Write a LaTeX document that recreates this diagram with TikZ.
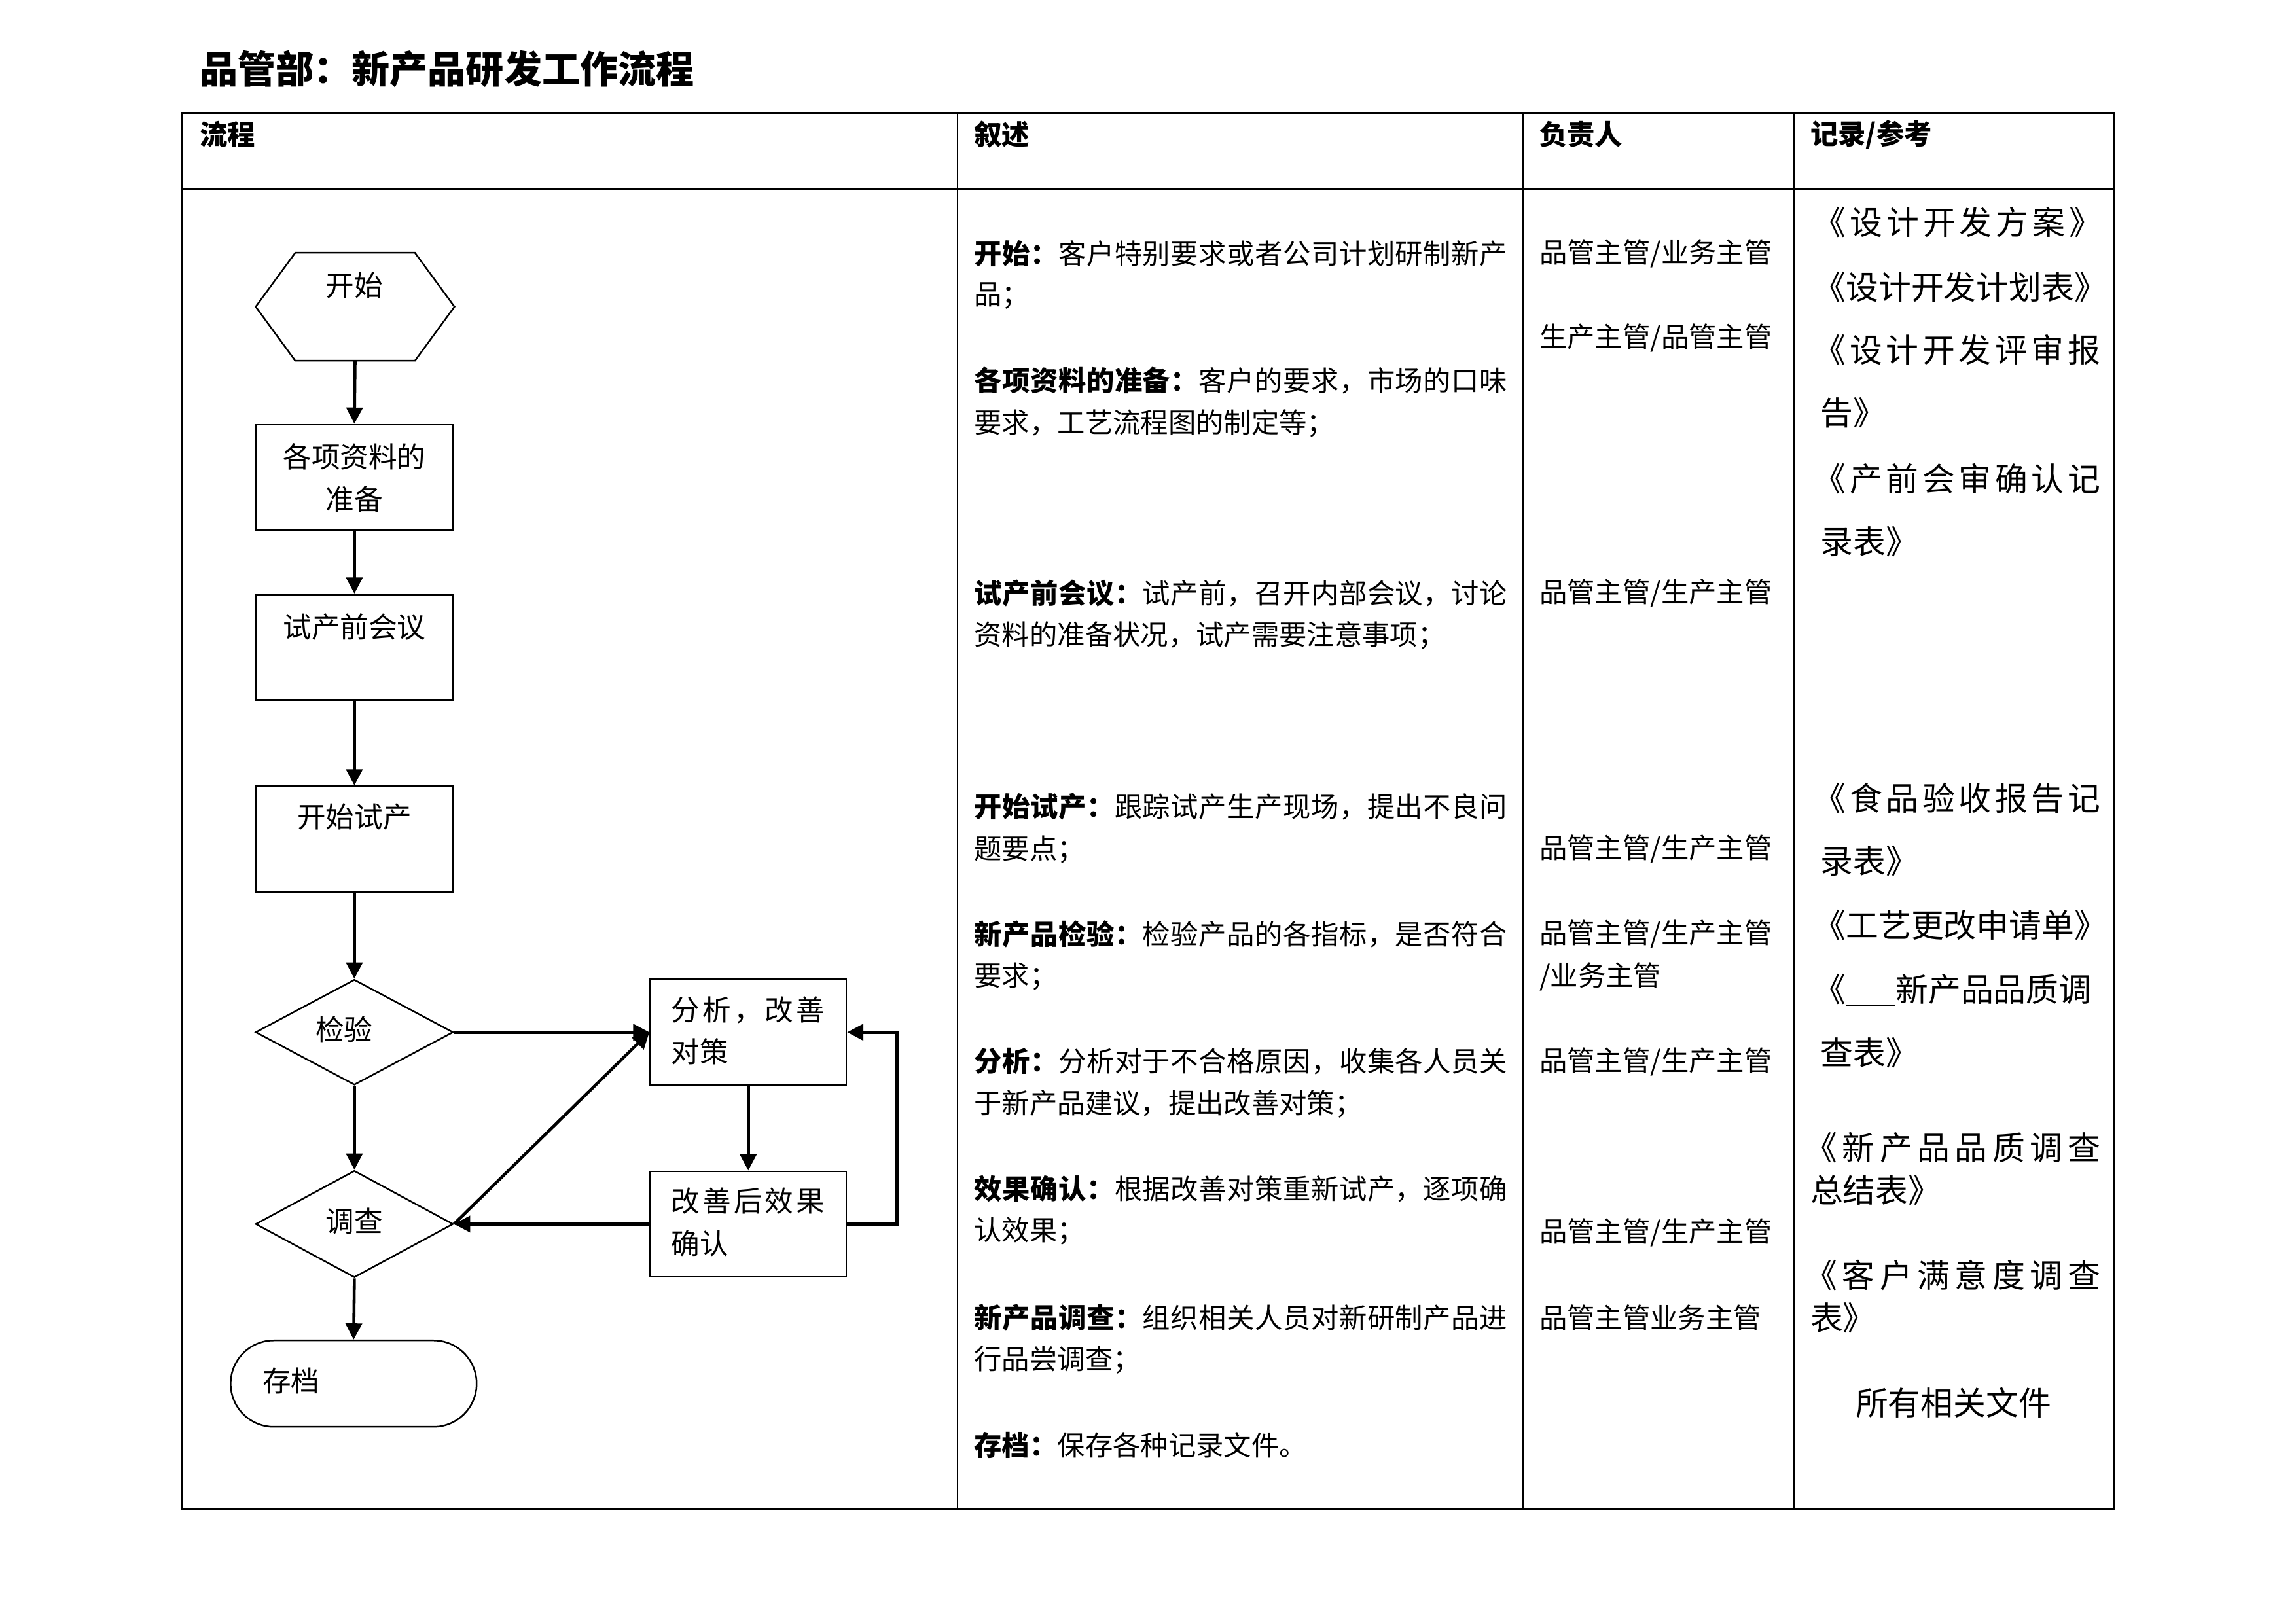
\documentclass[tikz,border=0pt]{standalone}
\usepackage{fontspec}
\setmainfont{Noto Sans CJK SC}
\usetikzlibrary{arrows.meta,shapes.geometric,shapes.misc}
\newlength\dpx
\setlength\dpx{0.18941mm}
\makeatletter
\def\jl@end{\jl@end}
\def\jl@loop#1{\ifx#1\jl@end\else#1\hfil\expandafter\jl@loop\fi}
\newcommand\jline[3]{\makebox[#1][s]{{\bfseries\jl@loop#2\jl@end}\jl@loop#3\jl@end\hskip0pt plus -1fil}}
\makeatother
\begin{document}
\begin{tikzpicture}[x=0.18941mm,y=-0.18941mm,
  tline/.style={line width=0.6pt},
  shp/.style={draw,line width=0.6pt,inner sep=0pt},
  arr/.style={line width=1.1pt,-{Triangle[length=2.1mm,width=2.1mm]}},
  txt/.style={inner sep=0pt,anchor=west,font=\fontsize{10.2}{12}\selectfont},
  hd/.style={txt,font=\fontsize{10.2}{12}\selectfont\bfseries},
  ftxt/.style={inner sep=0pt,font=\fontsize{10.5}{12}\selectfont},
  rtxt/.style={inner sep=0pt,anchor=west,font=\fontsize{12}{14}\selectfont}]
\useasboundingbox (0,0) rectangle (1568,1108.5);
% title
\node[inner sep=0pt,anchor=west,font=\fontsize{14}{16}\selectfont\bfseries] (title) at (136,47) {品管部：新产品研发工作流程};
% table
\draw[tline] (124,77) rectangle (1444,1031);
\draw[tline] (124,129) -- (1444,129);
\draw[tline] (654,77) -- (654,1031);
\draw[tline] (1040,77) -- (1040,1031);
\draw[tline] (1225,77) -- (1225,1031);
\node[hd] (h1) at (136,92) {流程};
\node[hd] (h2) at (665,92) {叙述};
\node[hd] (h3) at (1051,92) {负责人};
\node[hd] (h4) at (1236,92) {记录/参考};
% flowchart shapes
\node[inner sep=0pt,minimum width=135*\dpx,minimum height=73*\dpx] (start) at (242.5,209.5) {};
\draw[line width=0.6pt] (start.west) -- ([xshift=27*\dpx]start.north west) -- ([xshift=-27*\dpx]start.north east) -- (start.east) -- ([xshift=-27*\dpx]start.south east) -- ([xshift=27*\dpx]start.south west) -- cycle;
\node[shp,minimum width=135*\dpx,minimum height=72*\dpx] (b1) at (242,326) {};
\node[shp,minimum width=135*\dpx,minimum height=72*\dpx] (b2) at (242,442) {};
\node[shp,minimum width=135*\dpx,minimum height=72*\dpx] (b3) at (242,573) {};
\node[shp,diamond,minimum width=135*\dpx,minimum height=72*\dpx] (d1) at (242,705) {};
\node[shp,diamond,minimum width=135*\dpx,minimum height=73*\dpx] (d2) at (242,836) {};
\node[shp,rounded rectangle,minimum width=168*\dpx,minimum height=59*\dpx] (fin) at (241.5,945) {};
\node[shp,minimum width=134*\dpx,minimum height=72*\dpx] (b4) at (511,705) {};
\node[shp,minimum width=134*\dpx,minimum height=72*\dpx] (b5) at (511,836) {};
% flowchart texts
\node[ftxt] (ts) at (242,195) {开始};
\node[ftxt] (t1a) at (242,312) {各项资料的};
\node[ftxt] (t1b) at (242,341) {准备};
\node[ftxt] (t2) at (242,428) {试产前会议};
\node[ftxt] (t3) at (242,558) {开始试产};
\node[ftxt] (t4) at (235,703) {检验};
\node[ftxt] (t5) at (242,834) {调查};
\node[ftxt,anchor=west] (t6) at (179,943) {存档};
\node[ftxt,anchor=west] (t7a) at (458,690) {\jline{105\dpx}{}{分析，改善}};
\node[ftxt,anchor=west] (t7b) at (458,718) {对策};
\node[ftxt,anchor=west] (t8a) at (458,820) {\jline{105\dpx}{}{改善后效果}};
\node[ftxt,anchor=west] (t8b) at (458,849) {确认};
% connectors
\draw[arr] (start.south) -- (b1.north);
\draw[arr] (b1.south) -- (b2.north);
\draw[arr] (b2.south) -- (b3.north);
\draw[arr] (b3.south) -- (d1.north);
\draw[arr] (d1.south) -- (d2.north);
\draw[arr] (d2.south) -- (fin.north);
\draw[arr] (d1.east) -- (b4.west);
\draw[arr] (b4.south) -- (b5.north);
\draw[arr] (b5.west) -- (d2.east);
\draw[arr] (d2.east) -- (b4.west);
\draw[arr] (b5.east) -- ++(34,0) |- (b4.east);
% column 2
\node[txt] (c1) at (665,173) {\jline{364\dpx}{开始：}{客户特别要求或者公司计划研制新产}};
\node[txt] (c2) at (665,202) {品；};
\node[txt] (c3) at (665,260) {\jline{364\dpx}{各项资料的准备：}{客户的要求，市场的口味}};
\node[txt] (c4) at (665,289) {要求，工艺流程图的制定等；};
\node[txt] (c5) at (665,405) {\jline{364\dpx}{试产前会议：}{试产前，召开内部会议，讨论}};
\node[txt] (c6) at (665,434) {资料的准备状况，试产需要注意事项；};
\node[txt] (c7) at (665,551) {\jline{364\dpx}{开始试产：}{跟踪试产生产现场，提出不良问}};
\node[txt] (c8) at (665,580) {题要点；};
\node[txt] (c9) at (665,638) {\jline{364\dpx}{新产品检验：}{检验产品的各指标，是否符合}};
\node[txt] (c10) at (665,667) {要求；};
\node[txt] (c11) at (665,725) {\jline{364\dpx}{分析：}{分析对于不合格原因，收集各人员关}};
\node[txt] (c12) at (665,754) {于新产品建议，提出改善对策；};
\node[txt] (c13) at (665,812) {\jline{364\dpx}{效果确认：}{根据改善对策重新试产，逐项确}};
\node[txt] (c14) at (665,841) {认效果；};
\node[txt] (c15) at (665,900) {\jline{364\dpx}{新产品调查：}{组织相关人员对新研制产品进}};
\node[txt] (c16) at (665,929) {行品尝调查；};
\node[txt] (c17) at (665,987) {\textbf{存档：}保存各种记录文件。};
% column 3
\node[txt] (r1) at (1051,173) {品管主管/业务主管};
\node[txt] (r2) at (1051,231) {生产主管/品管主管};
\node[txt] (r3) at (1051,405) {品管主管/生产主管};
\node[txt] (r4) at (1051,580) {品管主管/生产主管};
\node[txt] (r5) at (1051,638) {品管主管/生产主管};
\node[txt] (r6) at (1051,667) {/业务主管};
\node[txt] (r7) at (1051,725) {品管主管/生产主管};
\node[txt] (r8) at (1051,842) {品管主管/生产主管};
\node[txt] (r9) at (1051,900) {品管主管业务主管};
% column 4
\node[rtxt] (k1) at (1238,152) {\jline{197\dpx}{}{《设计开发方案》}};
\node[rtxt] (k2) at (1238,196) {《设计开发计划表》};
\node[rtxt] (k3) at (1238,239) {\jline{196\dpx}{}{《设计开发评审报}};
\node[rtxt] (k4) at (1243,282) {告》};
\node[rtxt] (k5) at (1238,327) {\jline{196\dpx}{}{《产前会审确认记}};
\node[rtxt] (k6) at (1243,370) {录表》};
\node[rtxt] (k7) at (1238,545) {\jline{196\dpx}{}{《食品验收报告记}};
\node[rtxt] (k8) at (1243,588) {录表》};
\node[rtxt] (k9) at (1238,632) {《工艺更改申请单》};
\node[rtxt] (k10) at (1238,676) {《\rule[-1.5pt]{34\dpx}{0.5pt}新产品品质调};
\node[rtxt] (k11) at (1243,719) {查表》};
\node[rtxt] (k12) at (1232,784) {\jline{202\dpx}{}{《新产品品质调查}};
\node[rtxt] (k13) at (1236,813) {总结表》};
\node[rtxt] (k14) at (1232,871) {\jline{202\dpx}{}{《客户满意度调查}};
\node[rtxt] (k15) at (1236,900) {表》};
\node[rtxt,anchor=center] (k16) at (1334,958) {所有相关文件};
\end{tikzpicture}
\end{document}
